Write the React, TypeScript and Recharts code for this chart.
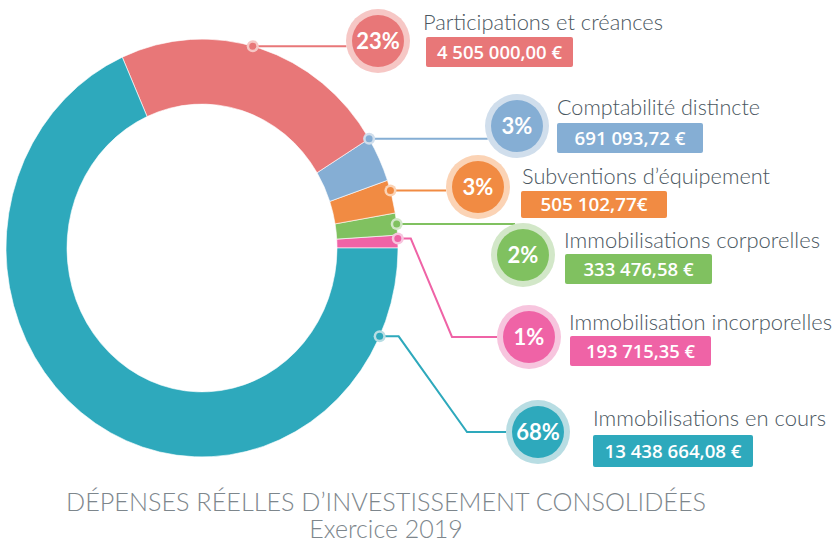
import React from 'react'
import { PieChart, Pie, Cell, Sector } from 'recharts'

const categories = [
  'Participations et créances',
  'Comptabilité distincte',
  'Subventions d’équipement',
  'Immobilisations corporelles',
  'Immobilisation incorporelles',
  'Immobilisations en cours',
]
const amounts = [4505000.0, 691093.72, 505102.77, 333476.58, 193715.35, 13438664.08]
const amountLabels = ['4 505 000,00 €', '691 093,72 €', '505 102,77€', '333 476,58 €', '193 715,35 €', '13 438 664,08 €']
const percentLabels = ['23%', '3%', '3%', '2%', '1%', '68%']
// slices go counter-clockwise from 3 o'clock
const drawOrder = [4, 3, 2, 1, 0, 5]

const colors = ['#E87778', '#85AED4', '#F18B43', '#80C160', '#EF63A6', '#2EA9BC']
const tints = ['#F6C7C5', '#D0DEEC', '#FBD3B5', '#D2E7C8', '#F7C5DE', '#B8DDE3']

// label layout (annotation positions, not data)
const layout = [
  { bx: 378, by: 41, tx: 423, ty: 30, tw: 240, box: [426, 37, 147, 30], vw: 125, anchor: 75, elbow: null },
  { bx: 517, by: 126, tx: 557, ty: 115, tw: 203, box: [557, 123, 146, 30], vw: 111, anchor: 31.5, elbow: null },
  { bx: 478, by: 187, tx: 522, ty: 184, tw: 248, box: [521, 191, 146, 27], vw: 107, anchor: 16, elbow: null },
  { bx: 523, by: 255, tx: 564, ty: 248, tw: 256, box: [565, 254, 147, 30], vw: 110, anchor: null, elbow: null },
  { bx: 529, by: 337, tx: 569, ty: 330, tw: 263, box: [570, 336, 141, 30], vw: 109, anchor: 2.6, elbow: [13, 77] },
  { bx: 538, by: 432, tx: 593, ty: 426, tw: 233, box: [593, 435, 160, 32], vw: 137, anchor: -25, elbow: [19, 71] },
]

const SY = 1.066
const BADGE_R = 32
const BADGE_IN = 26
const FONT = 'Lato, "Open Sans", sans-serif'
const FONT_NUM = '"Open Sans", Lato, sans-serif'

const pieData = drawOrder.map((i) => ({ name: categories[i], value: amounts[i], idx: i }))

function EllipseSector(props: any) {
  const { cy } = props
  return (
    <g transform={`translate(0 ${cy}) scale(1 ${SY}) translate(0 ${-cy})`}>
      <Sector {...props} />
    </g>
  )
}

function renderLabel(props: any) {
  const { cx, cy, outerRadius, midAngle, payload } = props
  const i = payload.idx
  const l = layout[i]
  const ang = ((l.anchor ?? midAngle) * Math.PI) / 180
  const dx = cx + outerRadius * Math.cos(ang)
  const dy = cy - outerRadius * Math.sin(ang) * SY
  let points: string
  if (l.elbow) {
    const [e1, e2] = l.elbow
    points = `${dx},${dy} ${dx + e1},${dy} ${l.bx - e2},${l.by} ${l.bx - BADGE_R},${l.by}`
  } else {
    const off = dy - l.by
    const ex = l.bx - Math.sqrt(Math.max(0, BADGE_R * BADGE_R - off * off))
    points = `${dx},${dy} ${ex},${dy}`
  }
  const [rx, ry, rw, rh] = l.box
  return (
    <g key={`lab-${i}`}>
      <polyline points={points} fill="none" stroke={colors[i]} strokeWidth={2} />
      <circle cx={dx} cy={dy} r={6} fill={tints[i]} />
      <circle cx={dx} cy={dy} r={3.5} fill={colors[i]} />
      <circle cx={l.bx} cy={l.by} r={BADGE_R} fill={tints[i]} />
      <circle cx={l.bx} cy={l.by} r={BADGE_IN} fill={colors[i]} />
      <text x={l.bx} y={l.by + 7.5} textAnchor="middle" fill="#fff" fontFamily={FONT} fontWeight={700} fontSize={22}>
        {percentLabels[i]}
      </text>
      <text x={l.tx} y={l.ty} fill="#4B5761" fontFamily={FONT} fontWeight={300} fontSize={22} textLength={l.tw} lengthAdjust="spacingAndGlyphs">
        {categories[i]}
      </text>
      <rect x={rx} y={ry} width={rw} height={rh} rx={2} fill={colors[i]} />
      <text
        x={rx + rw / 2}
        y={ry + rh / 2 + 6.5}
        textAnchor="middle"
        fill="#fff"
        fontFamily={FONT_NUM}
        fontWeight={600}
        fontSize={18}
        textLength={l.vw}
        lengthAdjust="spacingAndGlyphs"
      >
        {amountLabels[i]}
      </text>
    </g>
  )
}

export default function App() {
  return (
    <div style={{ position: 'absolute', left: 0, top: 0, width: 834, height: 545, background: '#fff' }}>
      <PieChart width={834} height={545} margin={{ top: 0, right: 0, bottom: 0, left: 0 }}>
        <Pie
          data={pieData}
          dataKey="value"
          cx={202}
          cy={248}
          innerRadius={135}
          outerRadius={196}
          startAngle={0}
          endAngle={360}
          stroke="#fff"
          strokeWidth={0.6}
          shape={EllipseSector}
          label={renderLabel}
          labelLine={false}
          isAnimationActive={false}
        >
          {pieData.map((d) => (
            <Cell key={d.name} fill={colors[d.idx]} />
          ))}
        </Pie>
        <text x={386} y={511} textAnchor="middle" fill="#7D868C" fontFamily={FONT} fontWeight={300} fontSize={25} textLength={640} lengthAdjust="spacingAndGlyphs">
          DÉPENSES RÉELLES D’INVESTISSEMENT CONSOLIDÉES
        </text>
        <text x={386} y={538} textAnchor="middle" fill="#7D868C" fontFamily={FONT} fontWeight={300} fontSize={25}>
          Exercice 2019
        </text>
      </PieChart>
    </div>
  )
}
